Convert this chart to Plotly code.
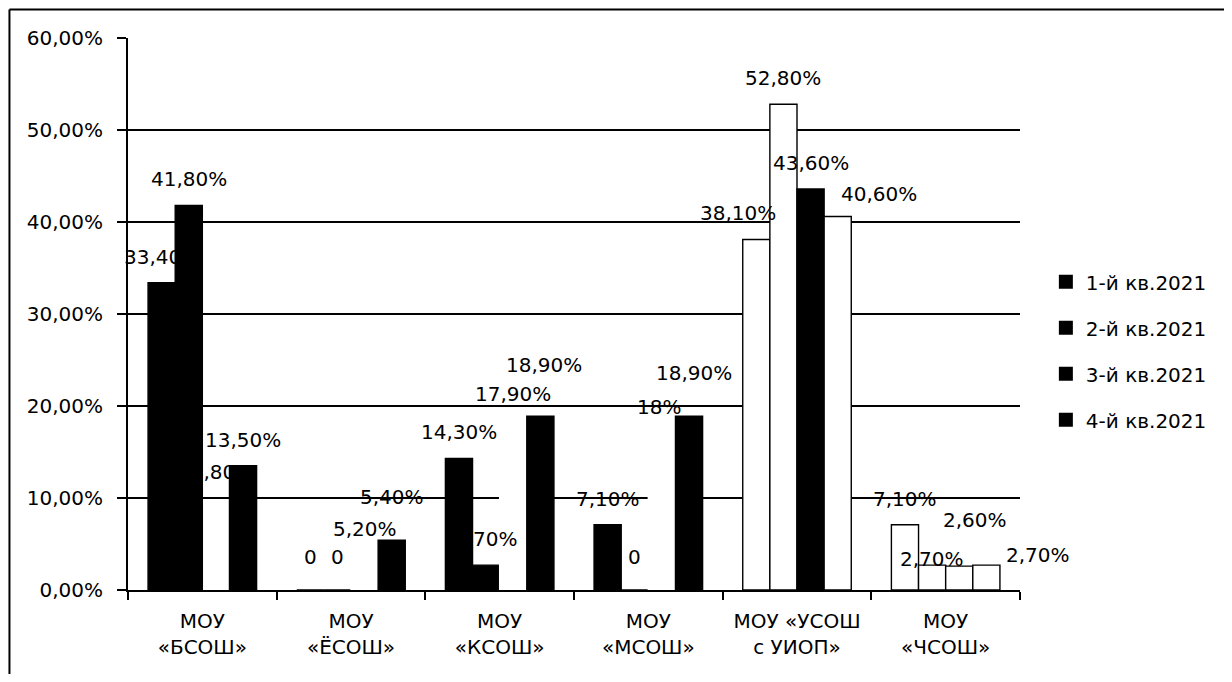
import plotly.graph_objects as go

categories = ["МОУ<br>«БСОШ»", "МОУ<br>«ЁСОШ»", "МОУ<br>«КСОШ»", "МОУ<br>«МСОШ»",
              "МОУ «УСОШ<br>с УИОП»", "МОУ<br>«ЧСОШ»"]
series_names = ["1-й кв.2021", "2-й кв.2021", "3-й кв.2021", "4-й кв.2021"]

q1 = [33.40, 0, 14.30, 7.10, 38.10, 7.10]
q2 = [41.80, 0, 2.70, 0, 52.80, 2.70]
q3 = [12.80, 5.20, 17.90, 18.00, 43.60, 2.60]
q4 = [13.50, 5.40, 18.90, 18.90, 40.60, 2.70]

labels_q1 = ["33,40%", "0", "14,30%", "7,10%", "38,10%", "7,10%"]
labels_q2 = ["41,80%", "0", "2,70%", "0", "52,80%", "2,70%"]
labels_q3 = ["12,80%", "5,20%", "17,90%", "18%", "43,60%", "2,60%"]
labels_q4 = ["13,50%", "5,40%", "18,90%", "18,90%", "40,60%", "2,70%"]

yticks = [0, 10, 20, 30, 40, 50, 60]
ytick_text = ["0,00%", "10,00%", "20,00%", "30,00%", "40,00%", "50,00%", "60,00%"]

# appearance of the scanned bars (black, white outlined, or faded)
B, W, T = "black", "white", "rgba(0,0,0,0)"
fills = [
    [B, B, B, B, W, W],
    [B, B, B, B, W, W],
    [T, W, W, W, B, W],
    [B, B, B, B, W, W],
]
outlines = [
    [B, B, B, B, B, B],
    [B, B, B, B, B, B],
    [T, W, W, W, B, B],
    [B, B, B, B, B, B],
]

# label placement style: default gap above bar top, plus manual nudges (px)
LABEL_GAP = 26
label_nudges = {
    (2, 0): (0, -26),
    (0, 1): (0, 7), (1, 1): (0, 7),
    (2, 1): (0, -13), (3, 1): (0, 17),
    (2, 2): (0, 5), (3, 2): (4, 25),
    (1, 3): (0, 7), (2, 3): (-3, -9), (3, 3): (5, 17),
    (0, 4): (-18, 0), (3, 4): (41, -4),
    (1, 5): (0, -20), (2, 5): (16, 20), (3, 5): (52, -16),
}

FONT = "DejaVu Sans"
BARGAP = 0.27
fig = go.Figure()
series_vals = [q1, q2, q3, q4]
series_labels = [labels_q1, labels_q2, labels_q3, labels_q4]
for name, vals, fc, lc in zip(series_names, series_vals, fills, outlines):
    fig.add_trace(go.Bar(
        x=categories, y=vals, name=name,
        marker=dict(color=fc, line=dict(color=lc, width=1.4)),
        showlegend=False,
    ))

slot = (1 - BARGAP) / 4
annotations = []
for k, (vals, labs) in enumerate(zip(series_vals, series_labels)):
    for i, (v, t) in enumerate(zip(vals, labs)):
        dx, dy = label_nudges.get((k, i), (0, 0))
        annotations.append(dict(
            x=i + (k - 1.5) * slot, y=v, xref="x", yref="y", text=t,
            showarrow=False, xanchor="center", yanchor="middle",
            xshift=dx, yshift=LABEL_GAP + dy,
            font=dict(family=FONT, size=20, color="black"),
        ))

for i, name in enumerate(series_names):
    fig.add_trace(go.Scatter(
        x=[None], y=[None], mode="markers", name=name, legendgroup=f"g{i}",
        marker=dict(symbol="square", size=14, color="black"),
    ))

fig.update_layout(
    width=1216, height=666,
    paper_bgcolor="white", plot_bgcolor="white",
    margin=dict(l=120, r=199, t=29.5, b=84),
    barmode="group", bargap=BARGAP, bargroupgap=0,
    font=dict(family=FONT, size=20, color="black"),
    annotations=annotations,
    legend=dict(x=1.029, y=0.4335, xanchor="left", yanchor="middle",
                font=dict(family=FONT, size=20, color="black"),
                tracegroupgap=17, itemwidth=30),
    xaxis=dict(range=[-0.5, len(categories) - 0.5], autorange=False,
               showline=True, linecolor="black", linewidth=2,
               ticks="outside", tickson="boundaries", ticklen=8,
               tickcolor="black", tickwidth=2, ticklabelstandoff=12,
               tickfont=dict(family=FONT, size=20)),
    yaxis=dict(range=[0, 60], autorange=False, tickvals=yticks, ticktext=ytick_text,
               showgrid=True, gridcolor="black", gridwidth=2,
               showline=True, linecolor="black", linewidth=2,
               ticks="outside", ticklen=9, tickcolor="black", tickwidth=2,
               ticklabelstandoff=10,
               tickfont=dict(family=FONT, size=20), zeroline=False),
    shapes=[
        dict(type="line", xref="paper", yref="paper", x0=-0.1329, x1=1.23,
             y0=1.0516, y1=1.0516, line=dict(color="black", width=2)),
        dict(type="line", xref="paper", yref="paper", x0=-0.1329, x1=-0.1329,
             y0=1.0516, y1=-0.2, line=dict(color="black", width=2)),
    ],
)

fig.write_html("out.html")
